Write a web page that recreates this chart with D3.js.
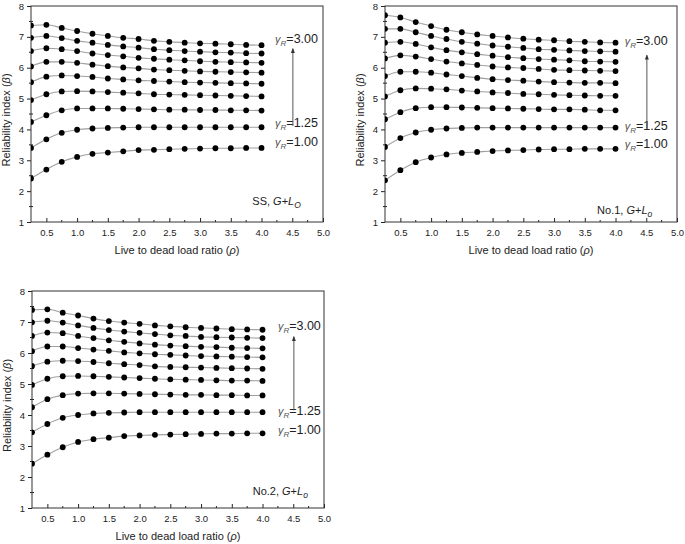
<!DOCTYPE html>
<html>
<head>
<meta charset="utf-8">
<script src="https://cdn.jsdelivr.net/npm/d3@7"></script>
<style>
  html, body { margin: 0; padding: 0; background: #fff; }
  svg { display: block; }
  text { font-family: "Liberation Sans", Arial, sans-serif; fill: #222; }
</style>
</head>
<body>
<svg id="chart" width="685" height="544"></svg>
<script>
// ---------- data ----------
const rho = [0.25, 0.5, 0.75, 1.0, 1.25, 1.5, 1.75, 2.0, 2.25, 2.5, 2.75, 3.0, 3.25, 3.5, 3.75, 4.0];
const gammaR = ["1.00", "1.25", "1.50", "1.75", "2.00", "2.25", "2.50", "2.75", "3.00"];
const xTicks = [0.5, 1.0, 1.5, 2.0, 2.5, 3.0, 3.5, 4.0, 4.5, 5.0];
const yTicks = [1, 2, 3, 4, 5, 6, 7, 8];

// beta values, one row per gamma_R (bottom to top)
const betaSS = [
  [2.41, 2.70, 2.95, 3.11, 3.21, 3.25, 3.29, 3.33, 3.34, 3.36, 3.37, 3.38, 3.39, 3.39, 3.40, 3.40],
  [3.40, 3.68, 3.89, 3.99, 4.03, 4.05, 4.06, 4.07, 4.07, 4.07, 4.07, 4.07, 4.07, 4.07, 4.07, 4.07],
  [4.24, 4.46, 4.62, 4.68, 4.68, 4.68, 4.67, 4.66, 4.65, 4.64, 4.64, 4.63, 4.63, 4.62, 4.62, 4.61],
  [4.95, 5.14, 5.23, 5.24, 5.23, 5.21, 5.19, 5.17, 5.14, 5.13, 5.12, 5.11, 5.10, 5.09, 5.08, 5.07],
  [5.53, 5.71, 5.75, 5.73, 5.70, 5.65, 5.62, 5.59, 5.57, 5.55, 5.53, 5.52, 5.51, 5.50, 5.49, 5.48],
  [6.04, 6.19, 6.19, 6.16, 6.10, 6.05, 6.01, 5.98, 5.94, 5.92, 5.90, 5.88, 5.87, 5.86, 5.85, 5.84],
  [6.54, 6.63, 6.60, 6.54, 6.46, 6.41, 6.37, 6.32, 6.29, 6.26, 6.24, 6.21, 6.19, 6.18, 6.17, 6.16],
  [6.97, 7.03, 6.96, 6.87, 6.81, 6.74, 6.69, 6.65, 6.60, 6.57, 6.54, 6.52, 6.50, 6.49, 6.47, 6.46],
  [7.37, 7.39, 7.29, 7.19, 7.10, 7.03, 6.97, 6.93, 6.87, 6.84, 6.81, 6.79, 6.78, 6.76, 6.74, 6.73]
];
const betaNo1 = [
  [2.35, 2.68, 2.94, 3.09, 3.19, 3.24, 3.27, 3.30, 3.32, 3.33, 3.35, 3.36, 3.36, 3.37, 3.37, 3.37],
  [3.43, 3.72, 3.90, 3.99, 4.03, 4.05, 4.06, 4.06, 4.06, 4.06, 4.06, 4.06, 4.06, 4.06, 4.06, 4.06],
  [4.33, 4.56, 4.69, 4.72, 4.72, 4.71, 4.70, 4.69, 4.68, 4.67, 4.66, 4.65, 4.65, 4.64, 4.62, 4.62],
  [5.07, 5.27, 5.33, 5.32, 5.30, 5.26, 5.23, 5.20, 5.18, 5.15, 5.14, 5.12, 5.11, 5.10, 5.09, 5.09],
  [5.73, 5.87, 5.87, 5.84, 5.78, 5.73, 5.67, 5.63, 5.60, 5.58, 5.55, 5.53, 5.52, 5.51, 5.51, 5.50],
  [6.30, 6.40, 6.36, 6.28, 6.20, 6.14, 6.09, 6.04, 6.01, 5.99, 5.96, 5.93, 5.92, 5.91, 5.90, 5.89],
  [6.81, 6.84, 6.77, 6.66, 6.57, 6.50, 6.44, 6.39, 6.34, 6.31, 6.28, 6.26, 6.24, 6.21, 6.20, 6.19],
  [7.26, 7.26, 7.15, 7.03, 6.93, 6.84, 6.78, 6.72, 6.68, 6.64, 6.60, 6.58, 6.56, 6.54, 6.53, 6.52],
  [7.70, 7.63, 7.48, 7.35, 7.23, 7.15, 7.08, 7.03, 6.98, 6.94, 6.91, 6.89, 6.86, 6.84, 6.82, 6.81]
];
const betaNo2 = [
  [2.43, 2.72, 2.96, 3.13, 3.22, 3.27, 3.32, 3.34, 3.36, 3.37, 3.38, 3.39, 3.40, 3.40, 3.41, 3.41],
  [3.44, 3.71, 3.91, 4.00, 4.05, 4.07, 4.08, 4.09, 4.09, 4.09, 4.09, 4.09, 4.09, 4.09, 4.09, 4.09],
  [4.25, 4.51, 4.64, 4.69, 4.70, 4.70, 4.69, 4.68, 4.67, 4.66, 4.65, 4.65, 4.64, 4.64, 4.63, 4.63],
  [4.97, 5.17, 5.25, 5.26, 5.25, 5.23, 5.21, 5.19, 5.17, 5.15, 5.14, 5.13, 5.12, 5.11, 5.11, 5.10],
  [5.58, 5.72, 5.75, 5.74, 5.71, 5.67, 5.64, 5.61, 5.57, 5.55, 5.54, 5.53, 5.52, 5.51, 5.50, 5.49],
  [6.06, 6.21, 6.21, 6.16, 6.11, 6.07, 6.02, 5.99, 5.96, 5.94, 5.92, 5.90, 5.89, 5.88, 5.87, 5.86],
  [6.55, 6.66, 6.64, 6.55, 6.48, 6.41, 6.36, 6.31, 6.27, 6.24, 6.22, 6.20, 6.19, 6.17, 6.16, 6.15],
  [6.99, 7.04, 6.98, 6.89, 6.81, 6.74, 6.69, 6.65, 6.61, 6.57, 6.55, 6.52, 6.51, 6.50, 6.49, 6.48],
  [7.39, 7.41, 7.30, 7.21, 7.11, 7.03, 6.98, 6.94, 6.89, 6.86, 6.83, 6.81, 6.79, 6.77, 6.76, 6.75]
];

// ---------- layout ----------
const panels = [
  { id: "p1", name: "SS", sub: "O", data: betaSS, box: { l: 31, t: 6, r: 323, b: 222 },
    lab: { x: 3.85, y: 1.55 }, ann: { x: 4.22, y3: 6.80, y125: 4.08, y100: 3.46, ax: 4.51, a0: 4.11, a1: 6.62 } },
  { id: "p2", name: "No.1", sub: "o", data: betaNo1, box: { l: 385, t: 6, r: 677, b: 222 },
    lab: { x: 3.70, y: 1.26 }, ann: { x: 4.15, y3: 6.74, y125: 3.98, y100: 3.40, ax: 4.51, a0: 4.05, a1: 6.41 } },
  { id: "p3", name: "No.2", sub: "o", data: betaNo2, box: { l: 32, t: 291, r: 324, b: 508 },
    lab: { x: 3.84, y: 1.42 }, ann: { x: 4.25, y3: 6.74, y125: 4.00, y100: 3.39, ax: 4.51, a0: 4.15, a1: 6.53 } }
];

const svg = d3.select("#chart");
const defs = svg.append("defs");
defs.append("marker")
  .attr("id", "arrowhead")
  .attr("viewBox", "0 0 10 10")
  .attr("refX", 9).attr("refY", 5)
  .attr("markerWidth", 5).attr("markerHeight", 6)
  .attr("orient", "auto")
  .append("path").attr("d", "M0,1 L10,5 L0,9 Z").attr("fill", "#333");

function gammaLabel(g, x, y, val) {
  const t = g.append("text").attr("x", x).attr("y", y).attr("font-size", 12.5);
  t.append("tspan").attr("font-style", "italic").attr("font-size", 11).attr("fill", "#555").text("γ");
  t.append("tspan").attr("font-style", "italic").attr("font-size", 8).attr("dy", 3).attr("fill", "#555").text("R");
  t.append("tspan").attr("dy", -3).text("=" + val);
}

panels.forEach(p => {
  const b = p.box;
  const x = d3.scaleLinear().domain([0.25, 5.0]).range([b.l, b.r]);
  const y = d3.scaleLinear().domain([1, 8]).range([b.b, b.t]);
  const g = svg.append("g");

  defs.append("clipPath").attr("id", "clip-" + p.id)
    .append("rect").attr("x", b.l).attr("y", b.t).attr("width", b.r - b.l).attr("height", b.b - b.t);

  // x axis (inward ticks)
  const xAxis = d3.axisBottom(x).tickValues(xTicks).tickSizeInner(-4).tickSizeOuter(0)
    .tickPadding(7).tickFormat(d3.format(".1f"));
  const gx = g.append("g").attr("transform", `translate(0,${b.b})`).call(xAxis);
  gx.selectAll("text").attr("font-size", 9.5).attr("fill", "#222")
    .attr("font-family", "'Liberation Sans', Arial, sans-serif");
  gx.selectAll("line").attr("stroke", "#222");
  gx.select(".domain").remove();
  const xMinor = xTicks.map(v => v + 0.25).filter(v => v < 5.0);
  g.append("g").selectAll("line").data(xMinor).join("line")
    .attr("x1", d => x(d)).attr("x2", d => x(d))
    .attr("y1", b.b).attr("y2", b.b - 2).attr("stroke", "#222");

  // y axis (outward ticks)
  const yAxis = d3.axisLeft(y).tickValues(yTicks).tickSizeInner(4).tickSizeOuter(0)
    .tickPadding(3).tickFormat(d3.format("d"));
  const gy = g.append("g").attr("transform", `translate(${b.l},0)`).call(yAxis);
  gy.selectAll("text").attr("font-size", 9.5).attr("fill", "#222")
    .attr("font-family", "'Liberation Sans', Arial, sans-serif");
  gy.selectAll("line").attr("stroke", "#222");
  gy.select(".domain").remove();
  const yMinor = yTicks.slice(0, -1).map(v => v + 0.5);
  g.append("g").selectAll("line").data(yMinor).join("line")
    .attr("x1", b.l - 2).attr("x2", b.l + 2)
    .attr("y1", d => y(d)).attr("y2", d => y(d)).attr("stroke", "#222");

  // frame
  g.append("rect").attr("x", b.l).attr("y", b.t).attr("width", b.r - b.l).attr("height", b.b - b.t)
    .attr("fill", "none").attr("stroke", "#333").attr("stroke-width", 1);

  // series
  const plot = g.append("g").attr("clip-path", `url(#clip-${p.id})`);
  const line = d3.line().x((d, i) => x(rho[i])).y(d => y(d)).curve(d3.curveMonotoneX);
  p.data.forEach(series => {
    plot.append("path").attr("d", line(series)).attr("fill", "none")
      .attr("stroke", "#a0a0a0").attr("stroke-width", 1.1);
    plot.append("g").selectAll("circle").data(series).join("circle")
      .attr("cx", (d, i) => x(rho[i])).attr("cy", d => y(d)).attr("r", 2.9).attr("fill", "#000");
  });

  // axis titles
  const cx = (b.l + b.r) / 2;
  const xt = g.append("text").attr("x", cx).attr("y", b.b + 32).attr("text-anchor", "middle").attr("font-size", 11);
  xt.append("tspan").text("Live to dead load ratio (");
  xt.append("tspan").attr("font-style", "italic").text("ρ");
  xt.append("tspan").text(")");

  const cy = (b.t + b.b) / 2 + 6;
  const yt = g.append("text").attr("transform", `translate(${b.l - 21},${cy}) rotate(-90)`)
    .attr("text-anchor", "middle").attr("font-size", 11);
  yt.append("tspan").text("Reliability index (");
  yt.append("tspan").attr("font-style", "italic").text("β");
  yt.append("tspan").text(")");

  // annotations
  const a = p.ann;
  gammaLabel(g, x(a.x), y(a.y3), gammaR[8]);
  gammaLabel(g, x(a.x), y(a.y125), gammaR[1]);
  gammaLabel(g, x(a.x), y(a.y100), gammaR[0]);
  g.append("line").attr("x1", x(a.ax)).attr("x2", x(a.ax)).attr("y1", y(a.a0)).attr("y2", y(a.a1))
    .attr("stroke", "#555").attr("stroke-width", 1).attr("marker-end", "url(#arrowhead)");

  const lt = g.append("text").attr("x", x(p.lab.x)).attr("y", y(p.lab.y)).attr("font-size", 11);
  lt.append("tspan").text(p.name + ", ");
  lt.append("tspan").attr("font-style", "italic").text("G");
  lt.append("tspan").text("+");
  lt.append("tspan").attr("font-style", "italic").text("L");
  lt.append("tspan").attr("font-style", "italic").attr("font-size", 8.5).attr("dy", 3).text(p.sub);
});
</script>
</body>
</html>
